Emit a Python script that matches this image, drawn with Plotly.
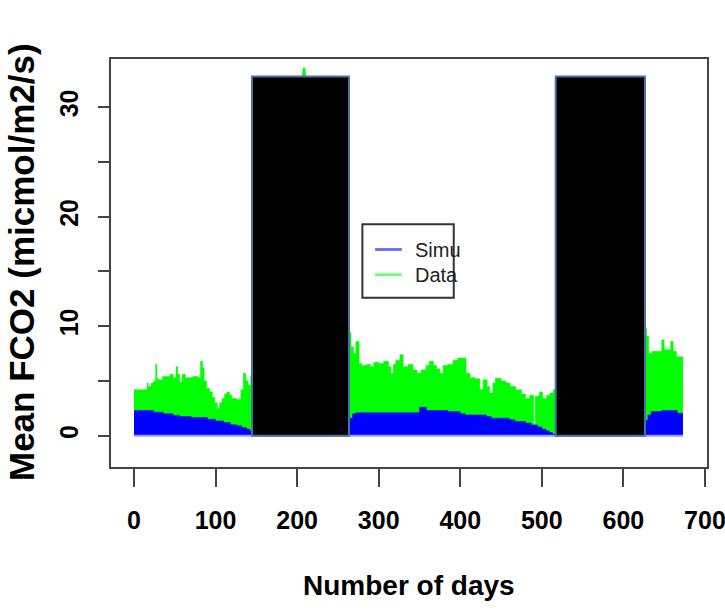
import plotly.graph_objects as go

# ---------------- data ----------------
# Observed data (green), step values; None separates visible segments
data_days = [0, 16, 17.5, 21, 24, 26.5, 28, 30, 35, 40, 44, 48, 51.5, 53.5, 56, 59, 63, 72, 78,
             81.5, 84, 86, 89, 93, 96, 99, 102, 105, 108, 111, 114, 117, 120, 126, 131, 134, 137,
             140, 143, 144.7,
             None,
             207.5, 209.5,
             None,
             263.6, 266, 269, 272, 276, 279, 285, 290, 294, 300, 306, 312, 315, 318, 321, 326, 330,
             336, 342, 347, 352, 358, 362, 367, 371, 375, 379, 385, 391, 397, 404, 407, 412, 418,
             424, 428, 433, 436, 440, 443, 450, 456, 461, 468, 475, 480, 485, 490, 492, 497, 501,
             506, 510, 514, 517,
             None,
             626.5, 628.5, 631, 635, 647, 650, 658, 661, 665, 673]
data_vals = [4.2, 4.8, 4.5, 4.8, 5.0, 6.5, 5.2, 5.1, 5.4, 5.4, 5.6, 5.3, 6.3, 5.6, 4.9, 5.6, 5.3, 5.4, 5.3,
             6.8, 6.2, 5.0, 4.3, 4.0, 3.5, 3.0, 2.5, 3.0, 3.4, 3.8, 4.0, 3.7, 3.4, 3.3, 4.2, 5.7, 5.0,
             4.6, 5.5, 5.5,
             None,
             33.6, 33.6,
             None,
             9.4, 8.1, 7.5, 8.6, 6.6, 6.4, 6.5, 6.3, 6.7, 6.6, 6.8, 6.3, 5.7, 6.5, 6.9, 7.4, 6.3,
             6.5, 6.0, 5.7, 6.0, 6.4, 6.8, 6.4, 6.1, 5.7, 6.4, 6.5, 6.9, 7.1, 7.1, 5.7, 5.3, 5.2,
             4.2, 5.1, 4.5, 3.9, 4.8, 5.25, 5.0, 4.8, 4.5, 4.2, 3.8, 3.4, 3.7, 1.1, 3.6, 4.0, 3.4,
             3.7, 3.9, 4.2, 4.2,
             None,
             9.8, 9.1, 7.5, 7.7, 8.75, 7.85, 8.6, 7.7, 7.2, 7.2]

# Simulation (blue)
simu_days = [0, 24, 36, 48, 56, 70, 90, 100, 110, 118, 126, 132, 138, 142, 144.7,
             None,
             263.6, 268, 272, 350, 358.5, 385, 400, 406, 432, 438, 460, 467, 480, 487, 495, 500,
             505, 509, 513, 517,
             None,
             626.5, 630, 634, 647, 666, 673]
simu_vals = [2.3, 2.15, 2.0, 1.85, 1.75, 1.65, 1.5, 1.35, 1.2, 1.0, 0.9, 0.75, 0.6, 0.45, 0.45,
             None,
             1.6, 2.0, 2.1, 2.6, 2.3, 2.2, 2.0, 1.9, 1.75, 1.6, 1.45, 1.3, 1.15, 0.98, 0.8, 0.6,
             0.45, 0.3, 0.15, 0.15,
             None,
             1.4, 1.9, 2.2, 2.3, 2.05, 2.05]

baseline_days = [0, 673]

# masking rectangles (day start, day end, top value)
mask_blocks = [(144.7, 263.6, 32.8), (517, 626.5, 32.8)]

x_ticks = [0, 100, 200, 300, 400, 500, 600, 700]
y_ticks = [0, 5, 10, 15, 20, 25, 30]
y_ticktext = ["0", "", "10", "", "20", "", "30"]

legend_labels = ["Simu", "Data"]

# ---------------- styles ----------------
GREEN = "#00ff00"
BLUE = "#0000ff"
AXIS = "#444444"
BOLD = "Liberation Sans, Arial, sans-serif"

fig = go.Figure()

fig.add_trace(go.Scatter(x=data_days, y=data_vals, mode="lines",
                         line=dict(shape="hv", width=0.5, color=GREEN),
                         fill="tozeroy", fillcolor=GREEN, connectgaps=False,
                         hoverinfo="skip", showlegend=False))
fig.add_trace(go.Scatter(x=simu_days, y=simu_vals, mode="lines",
                         line=dict(shape="hv", width=0.5, color=BLUE),
                         fill="tozeroy", fillcolor=BLUE, connectgaps=False,
                         hoverinfo="skip", showlegend=False))
fig.add_trace(go.Scatter(x=baseline_days, y=[0, 0], mode="lines",
                         line=dict(width=2, color="#9a9aff"),
                         hoverinfo="skip", showlegend=False))

shapes = []
for (a, b, top) in mask_blocks:
    shapes.append(dict(type="rect", xref="x", yref="y", x0=a, x1=b, y0=0, y1=top,
                       fillcolor="black", line=dict(color="#4a72a0", width=2), layer="above"))

# legend box (manual, clipped as in the original)
shapes.append(dict(type="rect", xref="x", yref="y", x0=280, x1=392, y0=12.6, y1=19.3,
                   fillcolor="white", line=dict(color="#333333", width=2), layer="above"))
shapes.append(dict(type="line", xref="x", yref="y", x0=295.6, x1=328.3, y0=17.0, y1=17.0,
                   line=dict(color="#6f6fff", width=3), layer="above"))
shapes.append(dict(type="line", xref="x", yref="y", x0=295.6, x1=328.3, y0=14.7, y1=14.7,
                   line=dict(color="#70ff70", width=3), layer="above"))

annotations = [
    dict(text=legend_labels[0], xref="x", yref="y", x=342, y=17.0, xanchor="left", yanchor="middle",
         showarrow=False, font=dict(family=BOLD, size=20, color="#222222")),
    dict(text=legend_labels[1], xref="x", yref="y", x=342, y=14.7, xanchor="left", yanchor="middle",
         showarrow=False, font=dict(family=BOLD, size=20, color="#222222")),
    dict(text="Number of days", xref="paper", yref="paper", x=(409 - 111) / 597, y=0,
         yshift=-118, xanchor="center", yanchor="middle", showarrow=False,
         font=dict(family=BOLD, size=28, color="black", weight="bold")),
    dict(text="Mean FCO2 (micmol/m2/s)", xref="paper", yref="paper", x=0, xshift=-90,
         y=(467 - 262) / 408, xanchor="center", yanchor="middle", textangle=-90, showarrow=False,
         font=dict(family=BOLD, size=35, color="black", weight="bold")),
]

fig.update_layout(
    width=725, height=610,
    margin=dict(l=111, r=18, t=59, b=143),
    paper_bgcolor="white", plot_bgcolor="white",
    shapes=shapes, annotations=annotations,
    showlegend=False,
)
fig.update_xaxes(range=[-28.2, 702.5], tickvals=x_ticks, ticks="outside", ticklen=18,
                 tickwidth=2, tickcolor=AXIS, showline=True, mirror=True, linecolor=AXIS,
                 linewidth=2, showgrid=False, zeroline=False, ticklabelstandoff=12,
                 ticklabeloverflow="allow", automargin=False,
                 tickfont=dict(family=BOLD, size=25, color="black", weight="bold"))
fig.update_yaxes(range=[-2.86, 34.4], tickvals=y_ticks, ticktext=y_ticktext, tickangle=-90,
                 ticks="outside", ticklen=11, tickwidth=2, tickcolor=AXIS, showline=True,
                 mirror=True, linecolor=AXIS, linewidth=2, showgrid=False, zeroline=False,
                 ticklabelstandoff=10, automargin=False,
                 tickfont=dict(family=BOLD, size=25, color="black", weight="bold"))

fig.write_html("out.html")
